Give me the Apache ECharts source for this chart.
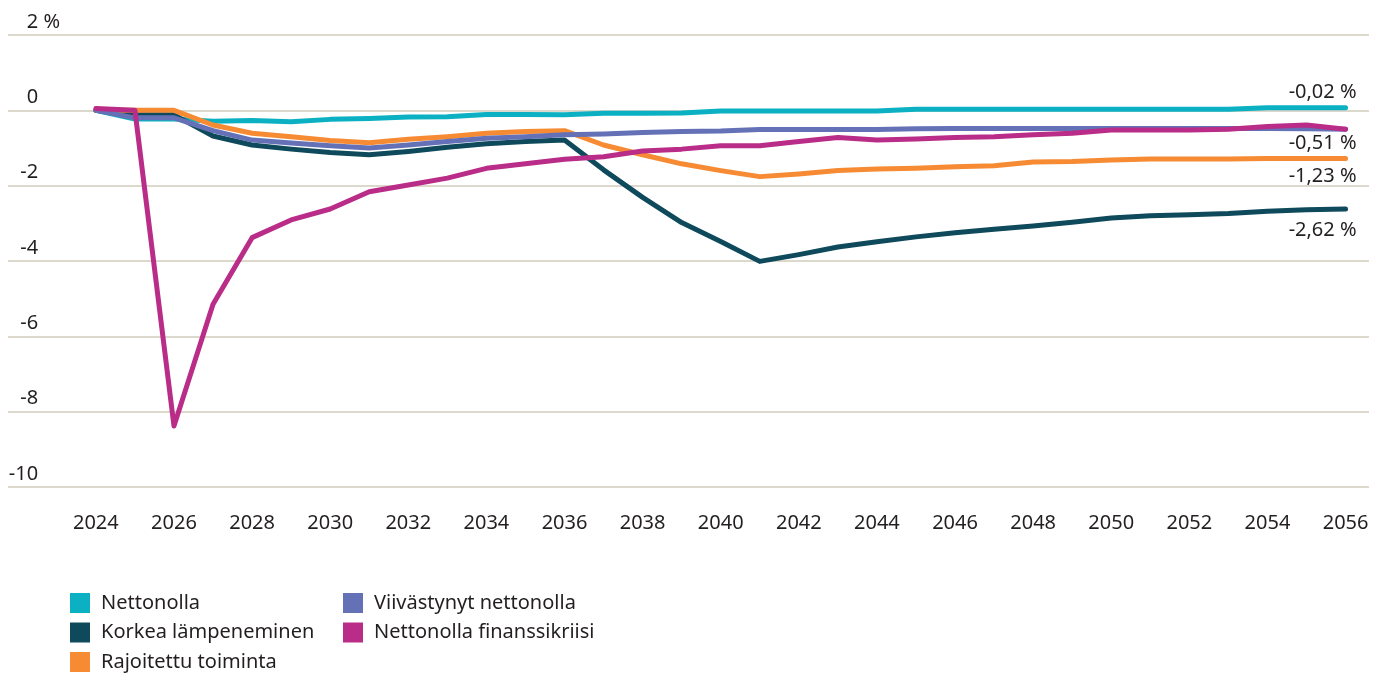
<!DOCTYPE html>
<html>
<head>
<meta charset="utf-8">
<script src="https://cdn.jsdelivr.net/npm/echarts@6/dist/echarts.min.js"></script>
<style>
  html, body { margin: 0; padding: 0; background: #fff; }
  #main { width: 1386px; height: 675px; }
</style>
</head>
<body>
<div id="main"></div>
<script>
var years = [];
for (var y = 2024; y <= 2056; y++) years.push(y);
var yearLabels = [2024, 2026, 2028, 2030, 2032, 2034, 2036, 2038, 2040, 2042, 2044, 2046, 2048, 2050, 2052, 2054, 2056];
var yTicks = [2, 0, -2, -4, -6, -8, -10];

var names = ['Nettonolla', 'Korkea lämpeneminen', 'Rajoitettu toiminta', 'Viivästynyt nettonolla', 'Nettonolla finanssikriisi'];
var colors = ['#0bb1c2', '#0e4a5b', '#f68b33', '#6571b7', '#b92c88'];

var nettonolla = [0, -0.23, -0.23, -0.29, -0.27, -0.3, -0.24, -0.22, -0.18, -0.17, -0.11, -0.11,
    -0.12, -0.08, -0.08, -0.07, -0.02, -0.02, -0.02, -0.02, -0.02, 0.03, 0.03, 0.03,
    0.03, 0.03, 0.03, 0.03, 0.03, 0.03, 0.07, 0.07, 0.07];
var korkea = [0, -0.12, -0.12, -0.68, -0.92, -1.03, -1.12, -1.18, -1.09, -0.98, -0.89, -0.83,
    -0.79, -1.58, -2.31, -2.98, -3.48, -4.01, -3.83, -3.63, -3.49, -3.36, -3.25, -3.16,
    -3.07, -2.97, -2.86, -2.8, -2.77, -2.74, -2.68, -2.64, -2.62];
var rajoitettu = [0, 0, 0, -0.39, -0.61, -0.7, -0.8, -0.86, -0.77, -0.7, -0.61, -0.56,
    -0.54, -0.92, -1.18, -1.42, -1.6, -1.76, -1.69, -1.6, -1.56, -1.54, -1.5, -1.47,
    -1.37, -1.36, -1.32, -1.29, -1.29, -1.29, -1.28, -1.28, -1.28];
var viivastynyt = [0, -0.2, -0.2, -0.54, -0.79, -0.87, -0.94, -1.0, -0.92, -0.83, -0.74, -0.7,
    -0.65, -0.63, -0.59, -0.56, -0.55, -0.51, -0.51, -0.51, -0.51, -0.49, -0.48, -0.48,
    -0.48, -0.48, -0.48, -0.48, -0.48, -0.48, -0.48, -0.49, -0.5];
var finanssikriisi = [0.05, 0, -8.38, -5.15, -3.38, -2.91, -2.62, -2.16, -1.98, -1.8, -1.54, -1.42,
    -1.3, -1.23, -1.08, -1.03, -0.94, -0.94, -0.83, -0.72, -0.79, -0.76, -0.72, -0.7,
    -0.65, -0.61, -0.52, -0.52, -0.52, -0.5, -0.43, -0.39, -0.5];
var seriesValues = [nettonolla, korkea, rajoitettu, viivastynyt, finanssikriisi];

// end labels (text, above/below the line end, line height sets the shift)
var endTexts = ['-0,02 %', '-2,62 %', '-1,23 %', null, '-0,51 %'];
var endAlign = ['bottom', 'top', 'top', null, 'top'];
var endLineH = [30, 42, 36, null, 28];

var font = "'Noto Sans', sans-serif";
var textColor = '#231f20';
var fs = 20;

function pairs(vals) {
    return years.map(function (yr, i) { return [yr, vals[i]]; });
}

var series = names.map(function (name, i) {
    var s = {
        name: name,
        type: 'line',
        data: pairs(seriesValues[i]),
        showSymbol: false,
        symbol: 'none',
        color: colors[i],
        lineStyle: { width: 5, cap: 'round', join: 'round', color: colors[i] },
        emphasis: { disabled: true }
    };
    if (endTexts[i]) {
        s.endLabel = {
            show: true,
            formatter: endTexts[i],
            color: textColor,
            fontFamily: font,
            fontSize: fs,
            align: 'right',
            verticalAlign: endAlign[i],
            lineHeight: endLineH[i],
            distance: 11
        };
    }
    return s;
});

var legendText = { fontSize: fs, lineHeight: 20, color: textColor, fontFamily: font, padding: [0, 0, 0, 6] };

var chart = echarts.init(document.getElementById('main'));
chart.setOption({
    animation: false,
    backgroundColor: '#fff',
    textStyle: { fontFamily: font, color: textColor },
    grid: { left: 8, right: 17, top: 35, bottom: 188, containLabel: false, outerBoundsMode: 'none' },
    xAxis: {
        type: 'value',
        min: 2021.75,
        max: 2056.6,
        axisLine: { show: false },
        axisTick: { show: false },
        splitLine: { show: false },
        axisLabel: {
            customValues: yearLabels,
            formatter: function (v) { return String(v); },
            margin: 26,
            fontSize: fs,
            color: textColor,
            fontFamily: font
        }
    },
    yAxis: {
        type: 'value',
        min: -10,
        max: 2,
        interval: 2,
        axisLine: { show: false },
        axisTick: { show: false },
        splitLine: { lineStyle: { color: '#dcd8cc', width: 2 } },
        axisLabel: {
            inside: true,
            align: 'right',
            verticalAlign: 'bottom',
            margin: 52,
            lineHeight: 26,
            fontSize: fs,
            color: textColor,
            fontFamily: font,
            // every label carries the unit, only the top one shows it
            formatter: function (v) {
                return '{n|' + v + '}' + (v === yTicks[0] ? '{u| %}' : '{h| %}');
            },
            rich: {
                n: { fontSize: fs, fontFamily: font, color: textColor, lineHeight: 26 },
                u: { fontSize: fs, fontFamily: font, color: textColor, lineHeight: 26 },
                h: { fontSize: fs, fontFamily: font, color: 'rgba(0,0,0,0)', lineHeight: 26 }
            }
        }
    },
    legend: [{
        data: names.slice(0, 3),
        orient: 'vertical',
        left: 70,
        top: 593,
        height: 120,
        padding: 0,
        icon: 'rect',
        itemWidth: 20,
        itemHeight: 20,
        itemGap: 9.5,
        selectedMode: false,
        textStyle: legendText
    }, {
        data: names.slice(3),
        orient: 'vertical',
        left: 343,
        top: 593,
        height: 120,
        padding: 0,
        icon: 'rect',
        itemWidth: 20,
        itemHeight: 20,
        itemGap: 9.5,
        selectedMode: false,
        textStyle: legendText
    }],
    series: series
});
</script>
</body>
</html>
